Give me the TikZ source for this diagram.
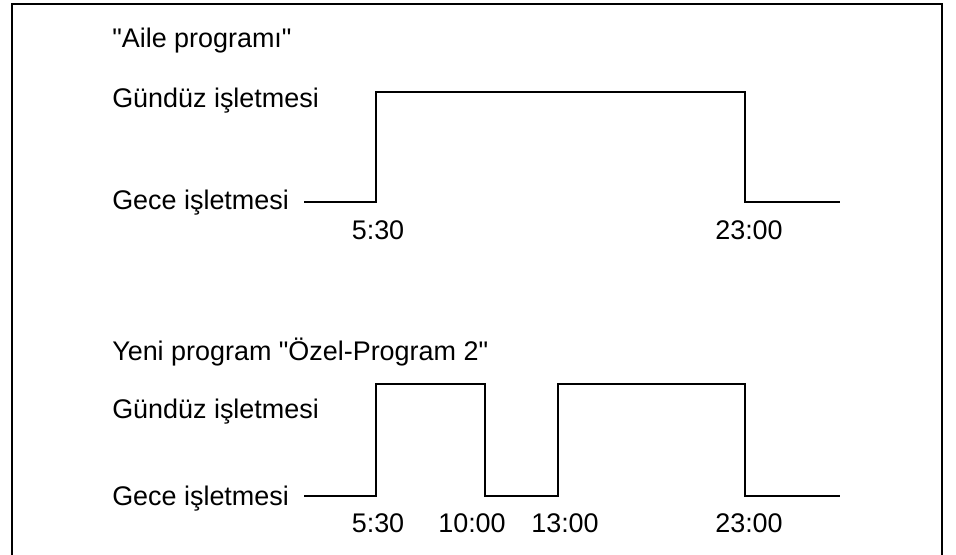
\documentclass[tikz,border=0pt]{standalone}
\usepackage{fontspec}
\setmainfont{Liberation Sans}
\tikzset{
  lbl/.style={anchor=base west, inner sep=0pt, font=\fontsize{20.2}{24}\selectfont},
  tim/.style={anchor=base, inner sep=0pt, font=\fontsize{20.2}{24}\selectfont},
  wave/.style={line width=1.5pt, line join=miter},
}
\newcommand{\qt}{\textquotedbl}
\begin{document}
\begin{tikzpicture}[x=0.75pt, y=-0.75pt]
    \useasboundingbox (0,0) rectangle (956,555);

    % frame, open at the bottom
    \draw[line width=0.9pt] (12,555) -- (12,4) -- (942,4) -- (942,555);

    % family program
    \node[lbl] (titleA) at (112,48)  {\qt Aile programı\qt};
    \node[lbl] (dayA)   at (112,108) {Gündüz işletmesi};
    \node[lbl] (nightA) at (112,210) {Gece işletmesi};

    \coordinate (a0) at (304,202);
    \coordinate (a1) at (376,202);
    \coordinate (a2) at (376,92);
    \coordinate (a3) at (745,92);
    \coordinate (a4) at (745,202);
    \coordinate (a5) at (840,202);
    \draw[wave] (a0) -- (a1) -- (a2) -- (a3) -- (a4) -- (a5);

    \node[tim] (onA)  at (378,240) {5:30};
    \node[tim] (offA) at (749,240) {23:00};

    % new program
    \node[lbl] (titleB) at (112,361) {Yeni program \qt Özel-Program 2\qt};
    \node[lbl] (dayB)   at (112,419) {Gündüz işletmesi};
    \node[lbl] (nightB) at (112,505) {Gece işletmesi};

    \coordinate (b0) at (304,496);
    \coordinate (b1) at (376,496);
    \coordinate (b2) at (376,384);
    \coordinate (b3) at (485,384);
    \coordinate (b4) at (485,496);
    \coordinate (b5) at (558,496);
    \coordinate (b6) at (558,384);
    \coordinate (b7) at (745,384);
    \coordinate (b8) at (745,496);
    \coordinate (b9) at (840,496);
    \draw[wave] (b0) -- (b1) -- (b2) -- (b3) -- (b4) -- (b5) -- (b6) -- (b7) -- (b8) -- (b9);

    \node[tim] (onB)   at (378,532) {5:30};
    \node[tim] (offB1) at (472,532) {10:00};
    \node[tim] (onB2)  at (565,532) {13:00};
    \node[tim] (offB)  at (749,532) {23:00};

\end{tikzpicture}
\end{document}
